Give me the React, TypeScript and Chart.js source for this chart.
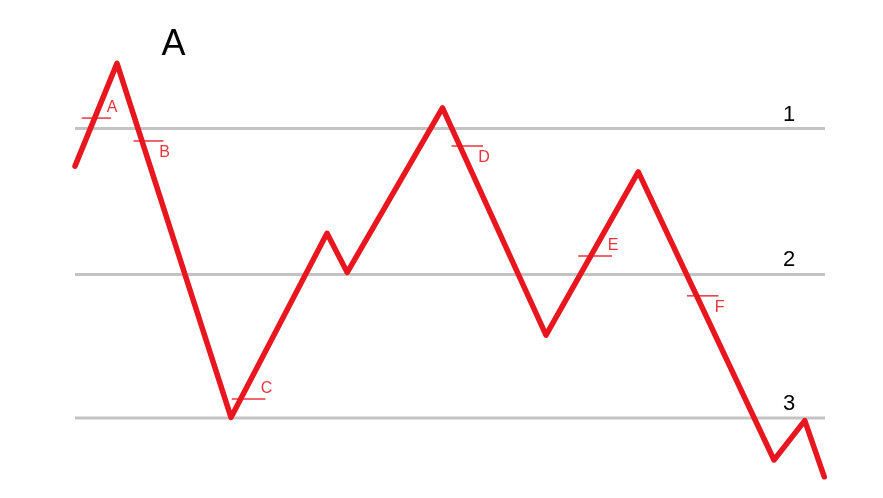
import React, { useEffect, useRef } from 'react'
import Chart from 'chart.js/auto'

// price path (time 0..100, level 3 = 0, level 1 = 100)
const pathTime = [0, 5.6, 20.8, 33.6, 36.3, 49.0, 62.8, 75.1, 93.2, 97.3, 99.9]
const pathPrice = [87, 122.5, 0.2, 63.8, 50.3, 107.1, 28.6, 85.0, -14.5, -0.9, -20.3]

// horizontal levels
const levelNames = ['1', '2', '3']
const levelValues = [100, 49.6, 0]
const levelStart = 0
const levelEnd = 100
const levelLabelTime = 95.2

// small red marks on the path
const markNames = ['A', 'B', 'C', 'D', 'E', 'F']
const markFrom = [0.9, 7.8, 20.9, 50.2, 67.1, 81.6]
const markTo = [4.8, 11.8, 25.4, 54.4, 71.6, 85.8]
const markPrice = [103.6, 95.7, 6.6, 94.0, 56.0, 42.2]
const markAbove = [true, false, true, false, true, false]

const titleText = 'A'

const RED = '#e8161e'
const MARK_RED = '#e8343c'
const GRAY = '#c3c3c3'
const FONT = '"Liberation Sans", Arial, sans-serif'

const App: React.FC = () => {
  const chartRef = useRef<HTMLCanvasElement | null>(null)

  useEffect(() => {
    if (!chartRef.current) return

    const levelSets = levelValues.map((v) => ({
      data: [
        { x: levelStart, y: v },
        { x: levelEnd, y: v }
      ],
      borderColor: GRAY,
      borderWidth: 3,
      pointRadius: 0,
      order: 2
    }))

    const markSets = markNames.map((_, i) => ({
      data: [
        { x: markFrom[i], y: markPrice[i] },
        { x: markTo[i], y: markPrice[i] }
      ],
      borderColor: MARK_RED,
      borderWidth: 1.5,
      pointRadius: 0,
      order: 1
    }))

    const pathSet = {
      data: pathTime.map((t, i) => ({ x: t, y: pathPrice[i] })),
      borderColor: RED,
      borderWidth: 5.5,
      borderJoinStyle: 'round' as const,
      borderCapStyle: 'round' as const,
      pointRadius: 0,
      tension: 0,
      order: 0
    }

    const labelPlugin = {
      id: 'labels',
      afterDatasetsDraw(chart: any) {
        const { ctx, scales } = chart
        const xs = scales.x
        const ys = scales.y
        ctx.save()
        ctx.textAlign = 'center'
        ctx.textBaseline = 'middle'

        // marks
        ctx.fillStyle = MARK_RED
        ctx.font = `16px ${FONT}`
        markNames.forEach((name, i) => {
          const px = xs.getPixelForValue(markTo[i]) + 1
          const py = ys.getPixelForValue(markPrice[i]) + (markAbove[i] ? -10 : 12)
          ctx.fillText(name, px, py)
        })

        // levels
        ctx.fillStyle = '#000'
        ctx.font = `22px ${FONT}`
        levelNames.forEach((name, i) => {
          const px = xs.getPixelForValue(levelLabelTime)
          const py = ys.getPixelForValue(levelValues[i]) - 14
          ctx.fillText(name, px, py)
        })

        // title
        ctx.font = `36px ${FONT}`
        ctx.textBaseline = 'alphabetic'
        ctx.fillText(titleText, 173.5, 55)
        ctx.restore()
      }
    }

    const chart = new Chart(chartRef.current, {
      type: 'line',
      data: { datasets: [pathSet, ...markSets, ...levelSets] as any },
      options: {
        animation: false,
        responsive: true,
        maintainAspectRatio: false,
        layout: { padding: 0 },
        plugins: {
          legend: { display: false },
          tooltip: { enabled: false }
        },
        scales: {
          x: { type: 'linear', display: false, min: -10, max: 107.73 },
          y: { type: 'linear', display: false, min: -27.63, max: 144.39 }
        }
      },
      plugins: [labelPlugin]
    })

    return () => {
      chart.destroy()
    }
  }, [])

  return (
    <div
      style={{
        position: 'absolute',
        left: 0,
        top: 0,
        width: 883,
        height: 498,
        background: '#fff'
      }}
    >
      <canvas ref={chartRef} />
    </div>
  )
}

export default App
